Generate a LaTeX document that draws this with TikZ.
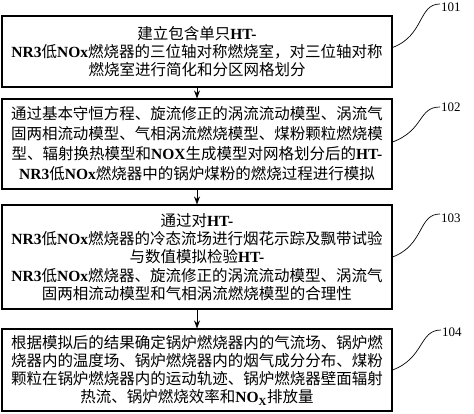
\documentclass[tikz,border=0pt]{standalone}
\usepackage{fontspec}
\setmainfont{Liberation Serif}
\newfontfamily\cjk{Noto Sans CJK SC}
\usepackage{tikz}
\usetikzlibrary{arrows.meta, positioning, calc}

\newcommand\lat[1]{{\rmfamily\bfseries #1}}

\begin{document}
\begin{tikzpicture}[x=1pt, y=-1pt,
    box/.style={draw, line width=1.1pt, minimum width=390pt, align=center, inner sep=1pt,
      font=\cjk\fontsize{15.5}{18.3}\selectfont},
    lab/.style={font=\fontsize{13}{14}\selectfont, inner sep=1pt, anchor=west},
    lead/.style={line width=0.7pt},
    arr/.style={-{Stealth[length=8pt,width=6pt]}, line width=0.8pt}]
  \useasboundingbox (0,0) rectangle (474,413);

  \node[box, minimum height=71pt] (b1) at (197, 51.5)
    {建立包含单只\lat{HT-}\\
     \lat{NR3}低\lat{NOx}燃烧器的三位轴对称燃烧室，对三位轴对称\\
     燃烧室进行简化和分区网格划分};
  \node[box, minimum height=90pt, font=\cjk\fontsize{15.5}{20}\selectfont] (b2) at (197, 144)
    {通过基本守恒方程、旋流修正的涡流流动模型、涡流气\\
     固两相流动模型、气相涡流燃烧模型、煤粉颗粒燃烧模\\
     型、辐射换热模型和\lat{NOX}生成模型对网格划分后的\lat{HT-}\\
     \lat{NR3}低\lat{NOx}燃烧器中的锅炉煤粉的燃烧过程进行模拟};
  \node[box, minimum height=104pt] (b3) at (197, 257)
    {通过对\lat{HT-}\\
     \lat{NR3}低\lat{NOx}燃烧器的冷态流场进行烟花示踪及飘带试验\\
     与数值模拟检验\lat{HT-}\\
     \lat{NR3}低\lat{NOx}燃烧器、旋流修正的涡流流动模型、涡流气\\
     固两相流动模型和气相涡流燃烧模型的合理性};
  \node[box, minimum height=82pt] (b4) at (197, 370)
    {根据模拟后的结果确定锅炉燃烧器内的气流场、锅炉燃\\
     烧器内的温度场、锅炉燃烧器内的烟气成分分布、煤粉\\
     颗粒在锅炉燃烧器内的运动轨迹、锅炉燃烧器壁面辐射\\
     热流、锅炉燃烧效率和\lat{NO\textsubscript{X}}排放量};

  \node[lab] (l101) at (440, 7) {101};
  \node[lab] (l102) at (440, 107) {102};
  \node[lab] (l103) at (440, 218) {103};
  \node[lab] (l104) at (441, 332) {104};

  \draw[arr] (b1) -- (b2);
  \draw[arr] (b2) -- (b3);
  \draw[arr] (b3) -- (b4);

  \draw[lead] ([yshift=4pt]b1.east) .. controls +(32,-12) and +(-22,0) .. ([yshift=3pt]l101.west);
  \draw[lead] ([yshift=2pt]b2.east) .. controls +(32,-12) and +(-22,0) .. (l102.west);
  \draw[lead] (b3.east) .. controls +(32,-12) and +(-22,0) .. ([yshift=4pt]l103.west);
  \draw[lead] (b4.east) .. controls +(32,-12) and +(-22,0) .. ([yshift=2pt]l104.west);
\end{tikzpicture}
\end{document}
